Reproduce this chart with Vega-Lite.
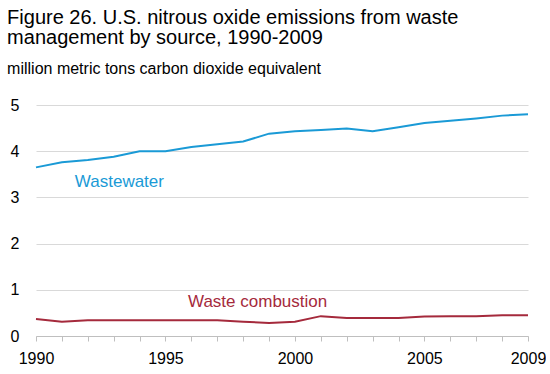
{
  "$schema": "https://vega.github.io/schema/vega-lite/v6.json",
  "width": 492,
  "height": 231,
  "padding": {"left": 7, "top": 8, "right": 0, "bottom": 0},
  "background": "white",
  "config": {
    "view": {"stroke": null},
    "font": "Liberation Sans"
  },
  "title": {
    "text": ["Figure 26. U.S. nitrous oxide emissions from waste", "management by source, 1990-2009"],
    "subtitle": "million metric tons carbon dioxide equivalent",
    "anchor": "start",
    "frame": "bounds",
    "dx": -3,
    "font": "Liberation Sans",
    "fontSize": 20,
    "fontWeight": "normal",
    "lineHeight": 20,
    "color": "#000000",
    "subtitleFont": "Liberation Sans",
    "subtitleFontSize": 16,
    "subtitleColor": "#000000",
    "subtitlePadding": 13,
    "offset": 20
  },
  "datasets": {
    "series": [
      {"year": 1990, "source": "Wastewater", "value": 3.65},
      {"year": 1991, "source": "Wastewater", "value": 3.76},
      {"year": 1992, "source": "Wastewater", "value": 3.81},
      {"year": 1993, "source": "Wastewater", "value": 3.88},
      {"year": 1994, "source": "Wastewater", "value": 4.0},
      {"year": 1995, "source": "Wastewater", "value": 4.0},
      {"year": 1996, "source": "Wastewater", "value": 4.09},
      {"year": 1997, "source": "Wastewater", "value": 4.15},
      {"year": 1998, "source": "Wastewater", "value": 4.21},
      {"year": 1999, "source": "Wastewater", "value": 4.38},
      {"year": 2000, "source": "Wastewater", "value": 4.43},
      {"year": 2001, "source": "Wastewater", "value": 4.46},
      {"year": 2002, "source": "Wastewater", "value": 4.49},
      {"year": 2003, "source": "Wastewater", "value": 4.43},
      {"year": 2004, "source": "Wastewater", "value": 4.52},
      {"year": 2005, "source": "Wastewater", "value": 4.61},
      {"year": 2006, "source": "Wastewater", "value": 4.66},
      {"year": 2007, "source": "Wastewater", "value": 4.71},
      {"year": 2008, "source": "Wastewater", "value": 4.77},
      {"year": 2009, "source": "Wastewater", "value": 4.8},
      {"year": 1990, "source": "Waste combustion", "value": 0.37},
      {"year": 1991, "source": "Waste combustion", "value": 0.31},
      {"year": 1992, "source": "Waste combustion", "value": 0.34},
      {"year": 1993, "source": "Waste combustion", "value": 0.34},
      {"year": 1994, "source": "Waste combustion", "value": 0.34},
      {"year": 1995, "source": "Waste combustion", "value": 0.34},
      {"year": 1996, "source": "Waste combustion", "value": 0.34},
      {"year": 1997, "source": "Waste combustion", "value": 0.34},
      {"year": 1998, "source": "Waste combustion", "value": 0.31},
      {"year": 1999, "source": "Waste combustion", "value": 0.28},
      {"year": 2000, "source": "Waste combustion", "value": 0.31},
      {"year": 2001, "source": "Waste combustion", "value": 0.43},
      {"year": 2002, "source": "Waste combustion", "value": 0.39},
      {"year": 2003, "source": "Waste combustion", "value": 0.39},
      {"year": 2004, "source": "Waste combustion", "value": 0.39},
      {"year": 2005, "source": "Waste combustion", "value": 0.42},
      {"year": 2006, "source": "Waste combustion", "value": 0.43},
      {"year": 2007, "source": "Waste combustion", "value": 0.43},
      {"year": 2008, "source": "Waste combustion", "value": 0.45},
      {"year": 2009, "source": "Waste combustion", "value": 0.45}
    ],
    "labels": [
      {"source": "Wastewater", "year": 1991.5, "value": 3.22},
      {"source": "Waste combustion", "year": 1995.87, "value": 0.63}
    ]
  },
  "encoding": {
    "x": {
      "field": "year",
      "type": "quantitative",
      "scale": {"domain": [1990, 2009], "nice": false, "zero": false},
      "axis": {
        "title": null,
        "values": [1990, 1991, 1992, 1993, 1994, 1995, 1996, 1997, 1998, 1999, 2000, 2001, 2002, 2003, 2004, 2005, 2006, 2007, 2008, 2009],
        "format": "d",
        "labelExpr": "indexof([1990, 1995, 2000, 2005, 2009], datum.value) >= 0 ? datum.label : ''",
        "grid": false,
        "domainColor": "#bfbfbf",
        "tickColor": "#bfbfbf",
        "tickSize": 5,
        "labelFontSize": 16,
        "labelColor": "#000000",
        "labelPadding": 9,
        "labelFlush": false,
        "labelBound": false,
        "labelOverlap": false
      }
    },
    "y": {
      "field": "value",
      "type": "quantitative",
      "scale": {"domain": [0, 5], "nice": false},
      "axis": {
        "title": null,
        "values": [0, 1, 2, 3, 4, 5],
        "domain": false,
        "ticks": false,
        "tickSize": 0,
        "gridColor": "#d9d9d9",
        "labelFontSize": 16,
        "labelColor": "#000000",
        "labelPadding": 17
      }
    },
    "color": {
      "field": "source",
      "type": "nominal",
      "scale": {"domain": ["Wastewater", "Waste combustion"], "range": ["#1a9ad6", "#a52a3c"]},
      "legend": null
    }
  },
  "layer": [
    {
      "data": {"name": "series"},
      "mark": {"type": "line", "strokeWidth": 2, "interpolate": "linear"}
    },
    {
      "data": {"name": "labels"},
      "mark": {"type": "text", "align": "left", "baseline": "alphabetic", "fontSize": 17, "font": "Liberation Sans"},
      "encoding": {
        "text": {"field": "source"}
      }
    }
  ]
}
